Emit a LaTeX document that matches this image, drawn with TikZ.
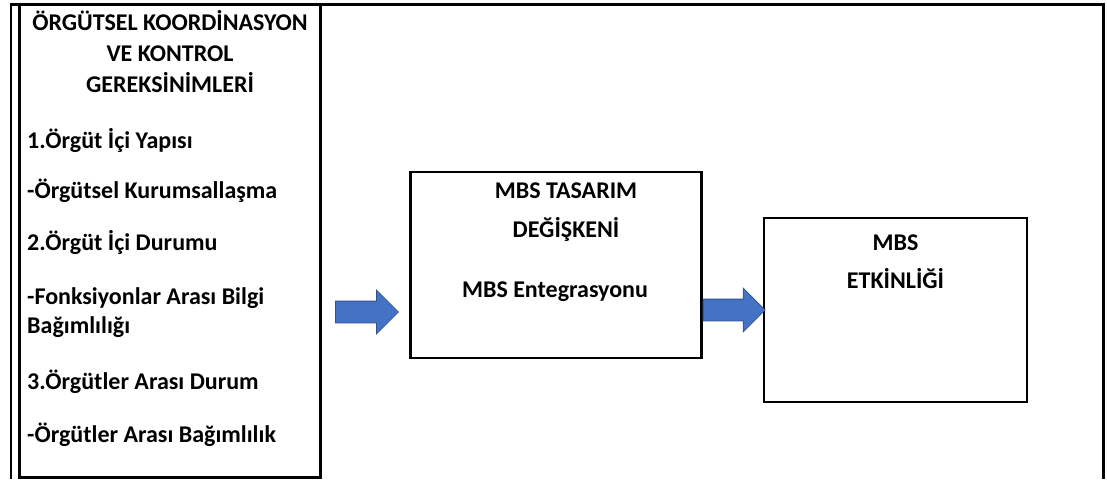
\documentclass[tikz,border=0pt]{standalone}
\usepackage{fontspec}
\setmainfont{Carlito}
\usetikzlibrary{shapes.arrows}
\definecolor{okmavi}{HTML}{4472C4}
\definecolor{okkenar}{HTML}{2F528F}

\tikzset{
  kutu/.style={draw=black, line width=2.4pt, inner sep=0pt},
  yazi/.style={inner sep=0pt, font=\fontsize{24}{28}\selectfont\bfseries},
  madde/.style={yazi, anchor=base west},
  baslik/.style={yazi, anchor=base},
  okb/.style={single arrow, fill=okmavi, draw=okkenar, line width=0.8pt,
    inner xsep=0pt, inner ysep=10.5pt, minimum width=0pt,
    single arrow head extend=11pt, anchor=tail}
}

\begin{document}
\begin{tikzpicture}[x=1pt,y=-1pt]
  \useasboundingbox (0,0) rectangle (1107,479);

  % dis cerceve
  \draw[line width=2.8pt] (11,479) -- (11,4.5) -- (1103.5,4.5) -- (1103.5,479);

  % kutular
  \node[kutu, minimum width=301pt, minimum height=473pt] (sol) at (170,241) {};
  \node[kutu, minimum width=291pt, minimum height=186pt] (orta) at (556,265) {};
  \node[kutu, minimum width=263pt, minimum height=184pt] (sag) at (895.5,310) {};

  % sol kutu
  \node[baslik] (b1) at (170,30) {ÖRGÜTSEL KOORDİNASYON};
  \node[baslik] (b2) at (170,61) {VE KONTROL};
  \node[baslik] (b3) at (170,92) {GEREKSİNİMLERİ};
  \foreach \y/\metin [count=\i] in {148/{1.Örgüt İçi Yapısı},
      198/{-Örgütsel Kurumsallaşma}, 250/{2.Örgüt İçi Durumu},
      304/{-Fonksiyonlar Arası Bilgi}, 333/{Bağımlılığı},
      389/{3.Örgütler Arası Durum}, 442/{-Örgütler Arası Bağımlılık}}{
    \node[madde] (m\i) at (27,\y) {\metin};
  }

  % orta kutu
  \node[baslik] (t1) at (566,198) {MBS TASARIM};
  \node[baslik] (t2) at (566,237) {DEĞİŞKENİ};
  \node[baslik] (t3) at (555,297) {MBS Entegrasyonu};

  % sag kutu
  \node[baslik] (e1) at (895.5,250) {MBS};
  \node[baslik] (e2) at (895.5,288) {ETKİNLİĞİ};

  % oklar
  \node[okb, minimum height=63pt] (ok1) at (335,312) {};
  \node[okb, minimum height=62pt] (ok2) at (orta.east |- 0,310) {};
\end{tikzpicture}
\end{document}
